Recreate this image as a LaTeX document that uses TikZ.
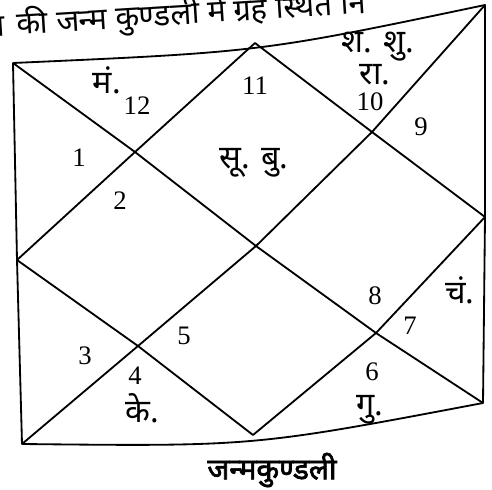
\documentclass[tikz,border=0pt]{standalone}
\usepackage{fontspec}
\setmainfont{Liberation Serif}
\newfontfamily\deva[Script=Devanagari]{Noto Sans}
\newfontfamily\devabold[Script=Devanagari, FakeBold=2.2]{Noto Sans}
\usetikzlibrary{positioning}

\begin{document}
\begin{tikzpicture}[x=0.025cm, y=-0.025cm,
    chartline/.style={black, line width=1.3pt, line join=round},
    numlabel/.style={font=\fontsize{19}{19}\selectfont, inner sep=0pt},
    grahlabel/.style={font=\deva\fontsize{23}{23}\selectfont, inner sep=0pt},
    toptext/.style={font=\deva\fontsize{22}{22}\selectfont, inner sep=0pt}]
    \useasboundingbox (0,0) rectangle (492,490);
    \clip (0,0) rectangle (492,490);
    % outer frame
    \coordinate (tl) at (13,63);
    \coordinate (tm) at (255,43);
    \coordinate (tr) at (485,5);
    \coordinate (lm) at (17,260);
    \coordinate (rm) at (485,217);
    \coordinate (bl) at (22,444);
    \coordinate (bm) at (253,435);
    \coordinate (br) at (483,403);
    % crossings
    \coordinate (xa) at (135,152);
    \coordinate (xb) at (372,132);
    \coordinate (xc) at (256,246);
    \coordinate (xd) at (138,346);
    \coordinate (xe) at (376,333);
    \draw[chartline] (tl) .. controls (261,52) .. (tr) -- (rm) -- (br)
      .. controls (253.5,446.5) .. (bl) -- (lm) -- cycle;
    \draw[chartline] (tl) -- (xa) -- (xc) -- (xe) -- (br);
    \draw[chartline] (tr) -- (xb) -- (xc) -- (xd) -- (bl);
    \draw[chartline] (lm) -- (xa) -- (tm) -- (xb) -- (rm);
    \draw[chartline] (lm) -- (xd) -- (bm) -- (xe) -- (rm);
    % house numbers
    \foreach \n/\x/\y in {1/79/158, 2/120/201, 3/85/356, 4/135/376,
        5/184/336, 6/372/372, 7/410/326, 8/375/296, 9/421/127,
        10/370/102, 11/255/86, 12/137/106}
      \node[numlabel] (h\n) at (\x,\y) {\n};
    % planets
    \node[grahlabel] (mang) at (107,80) {मं.};
    \node[grahlabel] (shani) at (378,47) {श. शु.};
    \node[grahlabel] (rahu) at (375,75) {रा.};
    \node[grahlabel] (surya) at (254,163) {सू. बु.};
    \node[grahlabel] (chandra) at (460,290) {चं.};
    \node[grahlabel] (ketu) at (142,408) {के.};
    \node[grahlabel] (guru) at (370,410) {गु.};
    % caption and cut-off line above
    \node[font=\devabold\fontsize{21}{21}\selectfont, inner sep=0pt]
      (caption) at (272,470) {जन्मकुण्डली};
    \node[toptext, anchor=base west, rotate=3.6] (topline) at (17,35)
      {की जन्म कुण्डली में ग्रह स्थित नि};
    \node[toptext, anchor=base east, rotate=3.6] (topcut) at (topline.base west)
      {ता\kern0.35em};
\end{tikzpicture}
\end{document}
